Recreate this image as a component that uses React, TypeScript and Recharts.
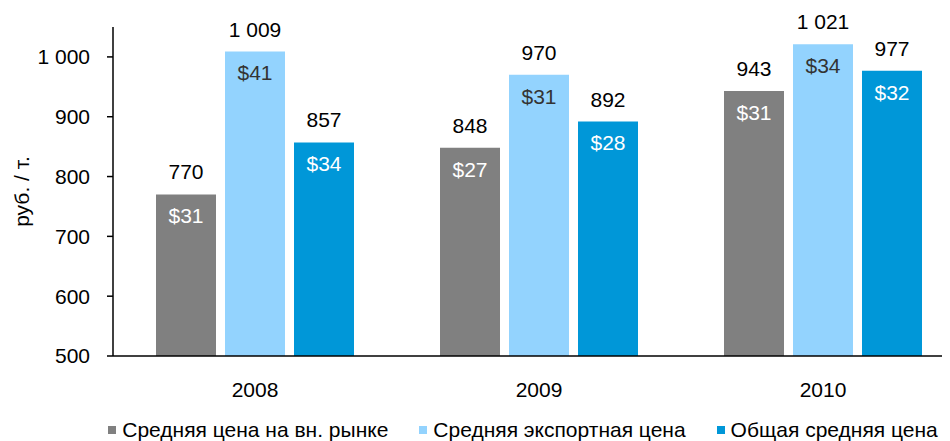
import React from 'react';
import {
  BarChart,
  Bar,
  XAxis,
  YAxis,
  LabelList
} from 'recharts';

const years = ['2008', '2009', '2010'];
const domesticPrice = [770, 848, 943];
const domesticUsd = [31, 27, 31];
const exportPrice = [1009, 970, 1021];
const exportUsd = [41, 31, 34];
const totalPrice = [857, 892, 977];
const totalUsd = [34, 28, 32];
const yTicks = [500, 600, 700, 800, 900, 1000];

const series = [
  { key: 'domestic', usd: 'domesticUsd', name: 'Средняя цена на вн. рынке', color: '#808080', inner: '#ffffff' },
  { key: 'export', usd: 'exportUsd', name: 'Средняя экспортная цена', color: '#93D3FE', inner: '#333333' },
  { key: 'total', usd: 'totalUsd', name: 'Общая средняя цена', color: '#0097D8', inner: '#ffffff' }
];

const chartData = years.map((year, i) => ({
  year,
  domestic: domesticPrice[i],
  domesticUsd: domesticUsd[i],
  export: exportPrice[i],
  exportUsd: exportUsd[i],
  total: totalPrice[i],
  totalUsd: totalUsd[i]
}));

// 1009 -> "1 009"
const fmt = (v: any) => {
  const n = Number(v);
  if (n >= 1000) {
    const s = String(n);
    return s.slice(0, s.length - 3) + ' ' + s.slice(-3);
  }
  return String(n);
};

const FONT = 'Liberation Sans, Arial, sans-serif';

const ChartLegend = () => (
  <div
    style={{
      position: 'absolute',
      left: 0,
      width: 1030,
      top: 410,
      display: 'flex',
      justifyContent: 'center',
      gap: 31,
      fontFamily: FONT,
      fontSize: 21,
      lineHeight: '24px',
      color: '#000',
      whiteSpace: 'nowrap'
    }}
  >
    {series.map(s => (
      <div key={s.key} style={{ display: 'flex', alignItems: 'center' }}>
        <span style={{ width: 8, height: 8, background: s.color, display: 'inline-block', marginRight: 6 }} />
        <span>{s.name}</span>
      </div>
    ))}
  </div>
);

const App: React.FC = () => {
  return (
    <div style={{ position: 'relative', width: 942, height: 433, overflow: 'hidden' }}>
      <BarChart
        width={960}
        height={433}
        data={chartData}
        margin={{ top: 19, right: 3, left: 0, bottom: 55 }}
        barSize={60}
        barGap={9}
        style={{ fontFamily: FONT }}
      >
        <XAxis
          dataKey="year"
          height={30}
          tickLine={false}
          axisLine={{ stroke: '#000', strokeWidth: 1.5 }}
          tick={{ fill: '#000', fontSize: 21 }}
          tickMargin={20}
        />
        <YAxis
          domain={[500, 1050]}
          ticks={yTicks}
          width={105}
          tickFormatter={fmt}
          axisLine={{ stroke: '#000', strokeWidth: 1.5 }}
          tickLine={{ stroke: '#000', strokeWidth: 1.5 }}
          tickSize={6}
          tickMargin={17}
          tick={{ fill: '#000', fontSize: 21 }}
          allowDataOverflow
          label={{
            value: 'руб. / т.',
            angle: -90,
            position: 'insideLeft',
            offset: 14,
            style: { textAnchor: 'middle', fill: '#000', fontSize: 21 }
          }}
        />
        {series.map(s => (
          <Bar
            key={s.key}
            dataKey={s.key}
            name={s.name}
            fill={s.color}
            isAnimationActive={false}
          >
            <LabelList
              dataKey={s.key}
              position="top"
              offset={15}
              formatter={fmt}
              style={{ fill: '#000', fontSize: 21 }}
            />
            <LabelList
              dataKey={s.usd}
              position="insideTop"
              offset={14}
              formatter={(v: any) => `$${v}`}
              style={{ fill: s.inner, fontSize: 21 }}
            />
          </Bar>
        ))}
      </BarChart>
      <ChartLegend />
    </div>
  );
};

export default App;
